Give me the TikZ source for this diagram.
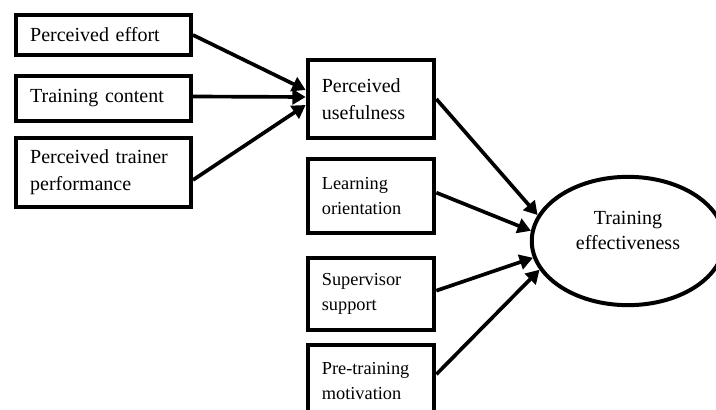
\documentclass[tikz,border=0pt]{standalone}
\usepackage{fontspec}
\setmainfont{Liberation Serif}
\usetikzlibrary{arrows.meta,shapes.geometric}

\begin{document}
\begin{tikzpicture}[x=0.6pt,y=-0.6pt,
  box/.style={draw=black, line width=2.4pt, rectangle, align=left, inner xsep=8.5pt, inner ysep=0pt, font=\fontsize{12}{16.2}\selectfont},
  small/.style={font=\fontsize{11}{14.7}\selectfont},
  link/.style={-{Triangle[length=8pt,width=9pt]}, line width=2.2pt}]
\useasboundingbox (0,0) rectangle (716,410);
% left column
\node[box, text width=88pt, minimum height=24pt](1) at (103.5,35) {Perceived effort};
\node[box, text width=88pt, minimum height=27pt](2) at (103.5,98.5) {Training content};
\node[box, text width=88pt, minimum height=41.5pt](3) at (103.5,172.5) {Perceived trainer\\performance};
% middle column
\node[box, text width=59pt, minimum height=47pt](4) at (371,99) {Perceived\\usefulness};
\node[box, small, text width=59pt, minimum height=44.5pt](5) at (371,196) {Learning\\orientation};
\node[box, small, text width=59pt, minimum height=43.3pt](6) at (371,294) {Supervisor\\support};
\node[box, small, text width=59pt, minimum height=43.5pt](8) at (371,381) {Pre-training\\motivation};
% outcome
\node[ellipse, draw=black, line width=2.4pt, minimum width=115.5pt, minimum height=77pt](7) at (628,241) {};
\node[align=center, font=\fontsize{12}{15}\selectfont](7t) at ([yshift=6.5pt]7.center) {Training\\effectiveness};

\draw [link](1.east) to ([yshift=5.4pt]4.west);
\draw [link]([yshift=1.2pt]2.east) to ([yshift=1.2pt]4.west);
\draw [link]([yshift=-4.5pt]3.east) to ([yshift=-3.6pt]4.west);
\draw [link](4.east) to (7.164);
\draw [link]([yshift=2pt]5.east) to (7.174);
\draw [link]([yshift=2pt]6.east) to (7.190);
\draw [link]([yshift=4pt]8.east) to (7.198);
\end{tikzpicture}
\end{document}
